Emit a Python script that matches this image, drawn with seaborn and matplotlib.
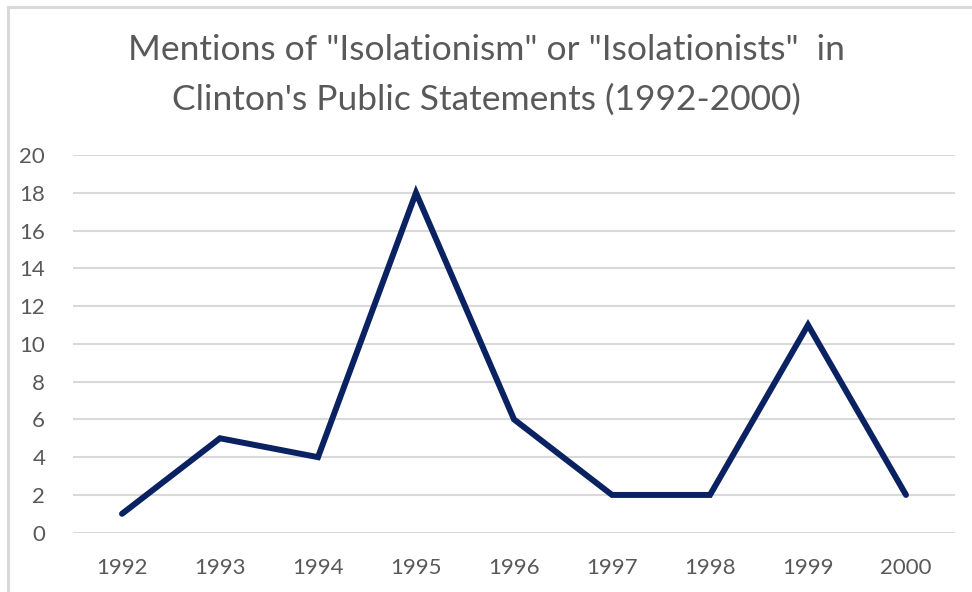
import matplotlib
matplotlib.use("Agg")
import matplotlib.pyplot as plt
import seaborn as sns
import pandas as pd
from matplotlib.patches import Rectangle

years = ["1992", "1993", "1994", "1995", "1996", "1997", "1998", "1999", "2000"]
mentions = [1, 5, 4, 18, 6, 2, 2, 11, 2]
yticks = [0, 2, 4, 6, 8, 10, 12, 14, 16, 18, 20]
title_lines = ['Mentions of "Isolationism" or "Isolationists"  in',
               "Clinton's Public Statements (1992-2000)"]

sns.set_theme(style="white")
plt.rcParams['font.family'] = ['Lato', 'DejaVu Sans']

df = pd.DataFrame({"year": years, "mentions": mentions})

fig = plt.figure(figsize=(9.72, 5.92), dpi=100)
ax = fig.add_axes([73/972, 1-532.7/592, (955-73)/972, (532.7-155)/592])

sns.lineplot(data=df, x="year", y="mentions", ax=ax, color="#0b2262",
             linewidth=4.3, sort=False)
for l in ax.get_lines():
    l.set_solid_capstyle("round")
    l.set_solid_joinstyle("miter")

ax.set_xlim(-0.5, len(years) - 0.5)
ax.set_ylim(0, 20)
ax.set_yticks(yticks)
ax.set_yticklabels([str(t) for t in yticks])
ax.yaxis.grid(True, color="#d9d9d9", linewidth=1.5)
ax.set_axisbelow(True)
for s in ax.spines.values():
    s.set_visible(False)
ax.tick_params(axis="both", length=0, labelsize=16, labelcolor="#595959")
ax.tick_params(axis="y", pad=20)
ax.tick_params(axis="x", pad=18)
ax.set_xlabel("")
ax.set_ylabel("")
ax.patch.set_alpha(0)

fig.text(0.5, 1 - 50/592, title_lines[0], ha="center", va="center",
         fontsize=25.5, color="#595959")
fig.text(0.5, 1 - 100/592, title_lines[1], ha="center", va="center",
         fontsize=25.5, color="#595959")

fig.patches.append(Rectangle((8/972, -0.1), 1.1, 1 - 7/592 + 0.1,
                             transform=fig.transFigure, fill=False,
                             edgecolor="#d9d9d9", linewidth=2.2, zorder=0))

fig.savefig("out.png", dpi=100)
